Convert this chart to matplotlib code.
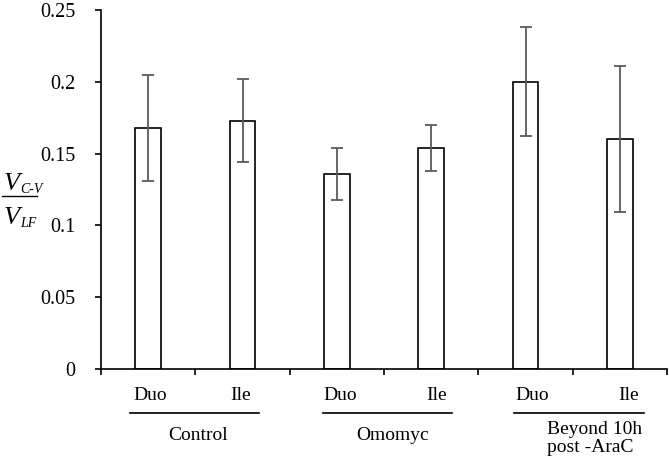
import matplotlib
matplotlib.use("Agg")
import numpy as np
import matplotlib.pyplot as plt

plt.rcParams['font.family'] = ['Liberation Serif', 'DejaVu Serif']

conditions = ["Duo", "Ile", "Duo", "Ile", "Duo", "Ile"]
groups = ["Control", "Omomyc", "Beyond 10h\npost -AraC"]
means = [0.168, 0.173, 0.136, 0.154, 0.200, 0.160]
errors = [0.037, 0.029, 0.018, 0.016, 0.038, 0.051]
yticks = [0, 0.05, 0.1, 0.15, 0.2, 0.25]
ytick_labels = ["0", "0.05", "0.1", "0.15", "0.2", "0.25"]

W, H = 669, 462
fig = plt.figure(figsize=(W / 100, H / 100), dpi=100)
ax = fig.add_axes([101 / W, 1 - 369 / H, 566 / W, 359 / H])

x = np.arange(len(means)) + 0.5
ax.bar(x, means, width=0.27, color='white', edgecolor='black', linewidth=1.2, zorder=2)
ax.errorbar(x, means, yerr=errors, fmt='none', ecolor='#5a5a5a', elinewidth=1.3,
            capsize=4.5, capthick=1.3, zorder=3)

ax.set_xlim(0, len(means))
ax.set_ylim(0, 0.25)
ax.set_xticks(np.arange(len(means) + 1))
ax.set_xticklabels([])
ax.set_yticks(yticks)
ax.set_yticklabels(ytick_labels, fontsize=14.5)
ax.tick_params(direction='out', length=4.5, width=1.2)
ax.tick_params(axis='y', pad=14)
for s in ['top', 'right']:
    ax.spines[s].set_visible(False)
for s in ['left', 'bottom']:
    ax.spines[s].set_linewidth(1.2)


def px(xp, yp):
    return xp / W, 1 - yp / H


# category labels were hand-placed in the original, so use pixel spots
label_x = [150, 241, 340, 437, 532, 629]
for lab, xp in zip(conditions, label_x):
    fig.text(*px(xp, 396), lab, ha='center', va='center', fontsize=14)

spans = [(130, 259), (323, 452), (514, 644)]
for a, b in spans:
    fig.add_artist(plt.Line2D([a / W, b / W], [1 - 413 / H] * 2, color='black', lw=1.2))

fig.text(*px(198, 436), groups[0], ha='center', va='center', fontsize=14)
fig.text(*px(393, 436), groups[1], ha='center', va='center', fontsize=14)
first, second = groups[2].split("\n")
fig.text(*px(595, 429), first, ha='center', va='center', fontsize=14)
fig.text(*px(590, 447), second, ha='center', va='center', fontsize=14)

# y label: V_{C-V} / V_{LF}
fig.text(*px(4, 190), "V", ha='left', va='baseline', fontsize=19, style='italic')
fig.text(*px(20, 193), "C-V", ha='left', va='baseline', fontsize=10, style='italic')
fig.add_artist(plt.Line2D([2 / W, 37 / W], [1 - 196 / H] * 2, color='black', lw=1.0))
fig.text(*px(4, 224), "V", ha='left', va='baseline', fontsize=19, style='italic')
fig.text(*px(20, 227), "LF", ha='left', va='baseline', fontsize=10, style='italic')

fig.savefig("out.png", dpi=100)
